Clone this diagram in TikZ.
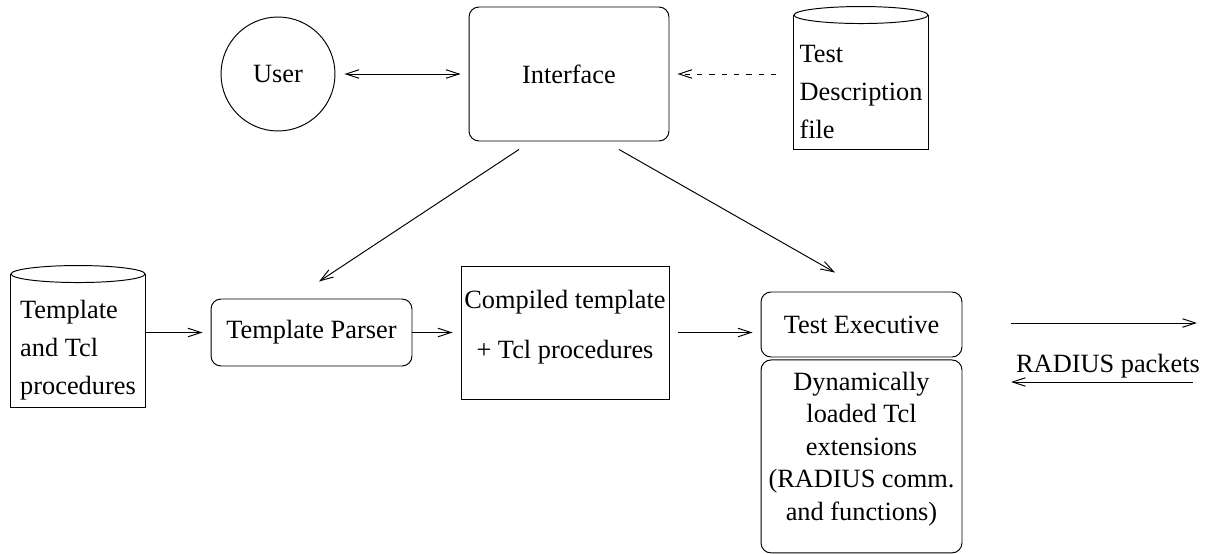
\documentclass[tikz,border=0pt]{standalone}
\usepackage{fontspec}
\setmainfont{Liberation Serif}
\usetikzlibrary{positioning,calc,arrows.meta}

\newcommand{\toppad}{\rule{0pt}{0.74cm}}

\begin{document}
\begin{tikzpicture}[x=0.02cm, y=-0.02cm, line width=0.55pt,
    >={Straight Barb[length=0.26cm,width=0.17cm]},
    every node/.style={font=\fontsize{15}{18}\selectfont},
    box/.style={draw, rounded corners=0.2cm, minimum width=4.02cm, align=center},
    drum/.style={minimum width=2.68cm, align=left, font=\fontsize{15}{21.5}\selectfont}]
    \useasboundingbox (0,0) rectangle (1207,554);

    % top row
    \node[circle, draw, minimum size=2.28cm] (user) at (278,74) {User};
    \node[box, minimum width=4cm, minimum height=2.68cm] (iface) at (569,74) {Interface};
    \node[drum, minimum height=2.67cm] (desc) at (861,82.25)
        {\toppad Test\\Description\\file};

    % middle row
    \node[drum, minimum height=2.65cm] (tmpl) at (78,340.75)
        {\toppad Template\\and Tcl\\procedures};
    \node[box, minimum height=1.34cm] (parser) at (311.5,332.5) {Template Parser};
    \node[draw, minimum width=4.16cm, minimum height=2.66cm, text depth=0.32cm, inner sep=0pt,
          align=center, font=\fontsize{15}{28.5}\selectfont] (compiled) at (565,332.5)
        {Compiled template\\ + Tcl procedures};
    \node[box, minimum height=1.3cm] (exec) at (861.5,324.5) {Test Executive};
    \node[box, below=0.04cm of exec, minimum height=3.86cm, text depth=0.42cm,
          font=\fontsize{15}{18.5}\selectfont] (dyn)
        {Dynamically\\loaded Tcl\\extensions\\(RADIUS comm.\\and functions)};

    % storage outlines
    \foreach \n in {tmpl,desc} {
        \draw (\n.north west) -- (\n.south west) -- (\n.south east) -- (\n.north east);
        \draw (\n.north) ellipse [x radius=1.34cm, y radius=0.17cm];
    }

    \draw[<->, shorten <=0.18cm, shorten >=0.16cm] (user) -- (iface);
    \draw[->, dash pattern=on 3pt off 4pt, shorten <=0.34cm, shorten >=0.16cm]
        (desc.west |- iface) -- (iface.east);
    \draw[->] ($(iface.south)+(-50,8)$) -- ($(parser.north)+(7.5,-17)$);
    \draw[->] ($(iface.south)+(50,8)$) -- ($(exec.north)+(-26.5,-19)$);

    \draw[->, shorten >=0.16cm] (tmpl.east |- parser) -- (parser.west);
    \draw[->, shorten >=0.16cm] (parser.east) -- (compiled.west);
    \draw[->, shorten <=0.18cm, shorten >=0.16cm] (compiled.east) -- (compiled.east -| exec.west);

    % network side
    \node (packets) at (1108,366) {RADIUS packets};
    \coordinate (outA) at (1011,323);
    \coordinate (outB) at (1197,323);
    \coordinate (inA) at (1193,382);
    \coordinate (inB) at (1011,382);
    \draw[->] (outA) -- (outB);
    \draw[->] (inA) -- (inB);
\end{tikzpicture}
\end{document}
